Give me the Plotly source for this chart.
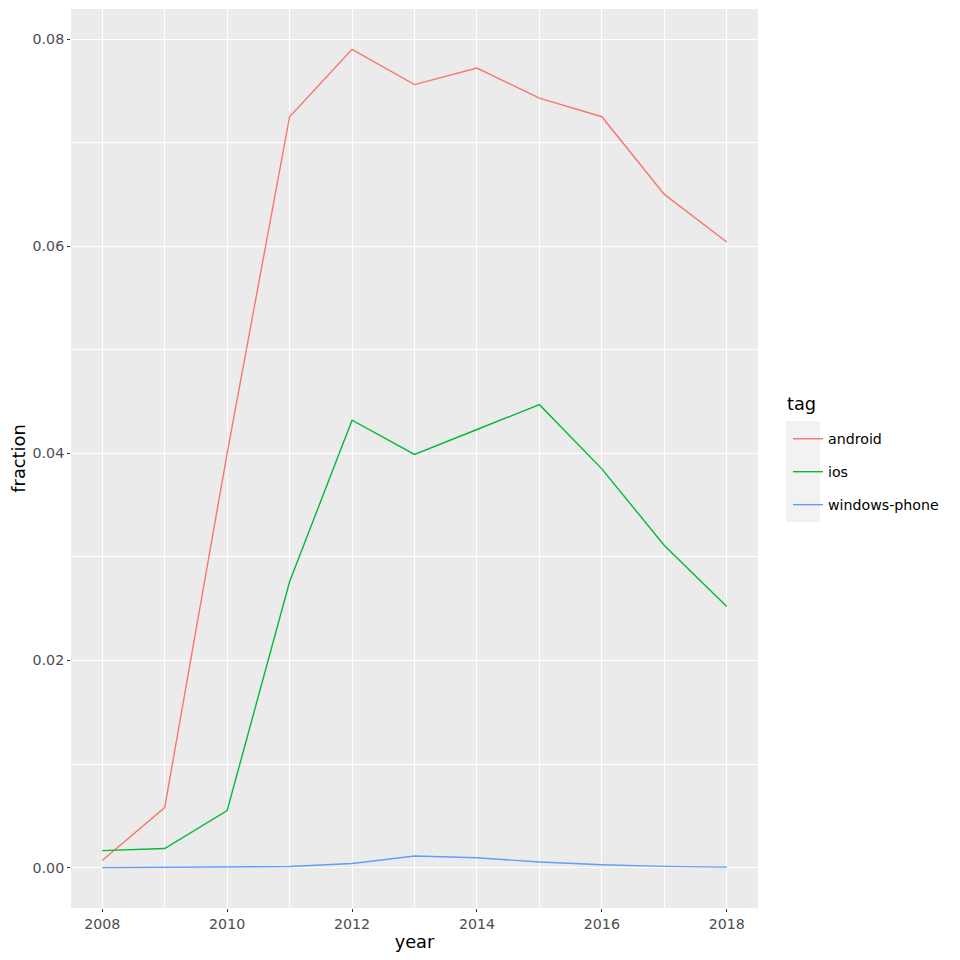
import plotly.graph_objects as go

years = [2008, 2009, 2010, 2011, 2012, 2013, 2014, 2015, 2016, 2017, 2018]
android = [0.00068, 0.0058, 0.0400, 0.0725, 0.0790, 0.0756, 0.0772, 0.0743, 0.0725, 0.0650, 0.0604]
ios = [0.00164, 0.00184, 0.0055, 0.0276, 0.0432, 0.0399, 0.0423, 0.0447, 0.0385, 0.0311, 0.0252]
windows_phone = [0.0, 0.00001, 0.00003, 0.0001, 0.0004, 0.00112, 0.00095, 0.00054, 0.00027, 0.00012, 0.00005]

series = [("android", android, "#F8766D"), ("ios", ios, "#00BA38"), ("windows-phone", windows_phone, "#619CFF")]

fig = go.Figure()
for name, vals, col in series:
    fig.add_trace(go.Scatter(x=years, y=vals, mode="lines", name=name, legendgroup=name,
                             line=dict(color=col, width=1.4)))

font_fam = "DejaVu Sans"
TICK = 14.2
TITLE = 17.8
axis_common = dict(
    showline=False, zeroline=False, gridcolor="white", gridwidth=1.1,
    ticks="outside", ticklen=3, tickwidth=1.1, tickcolor="#333333",
    tickfont=dict(family=font_fam, size=TICK, color="#4D4D4D"),
    title_font=dict(family=font_fam, size=TITLE, color="black"),
)
# plot area in figure coords: x 63..750, y 1..900 (page has 8px body margin)
PW, PH = 687, 899
fig.update_layout(
    width=960, height=960,
    margin=dict(l=63, r=210, t=1, b=60),
    paper_bgcolor="white", plot_bgcolor="#EBEBEB",
    font=dict(family=font_fam),
    xaxis=dict(range=[2007.5, 2018.5], tickvals=[2008, 2010, 2012, 2014, 2016, 2018],
               title=dict(text="year", standoff=4),
               minor=dict(tickvals=[2009, 2011, 2013, 2015, 2017], showgrid=True, gridcolor="white", gridwidth=0.55, ticks=""),
               **axis_common),
    yaxis=dict(range=[-0.0039, 0.0829], tickvals=[0, 0.02, 0.04, 0.06, 0.08],
               ticktext=["0.00", "0.02", "0.04", "0.06", "0.08"],
               title=dict(text="fraction", standoff=7),
               minor=dict(tickvals=[0.01, 0.03, 0.05, 0.07], showgrid=True, gridcolor="white", gridwidth=0.55, ticks=""),
               **axis_common),
    legend=dict(x=(780 - 63) / PW, y=(900 - 415) / PH, xanchor="left", yanchor="top",
                font=dict(family=font_fam, size=TICK, color="black"),
                tracegroupgap=11.5, itemwidth=30, bgcolor="rgba(0,0,0,0)"),
)
fig.add_annotation(text="tag", xref="paper", yref="paper", x=(777 - 63) / PW, y=(900 - 396) / PH,
                   xanchor="left", yanchor="middle", showarrow=False,
                   font=dict(family=font_fam, size=TITLE, color="black"))
fig.add_shape(type="rect", xref="paper", yref="paper", x0=(778 - 63) / PW, x1=(812 - 63) / PW,
              y0=(900 - 514) / PH, y1=(900 - 413) / PH, fillcolor="#F2F2F2", line=dict(width=0), layer="below")
fig.write_html("out.html")
